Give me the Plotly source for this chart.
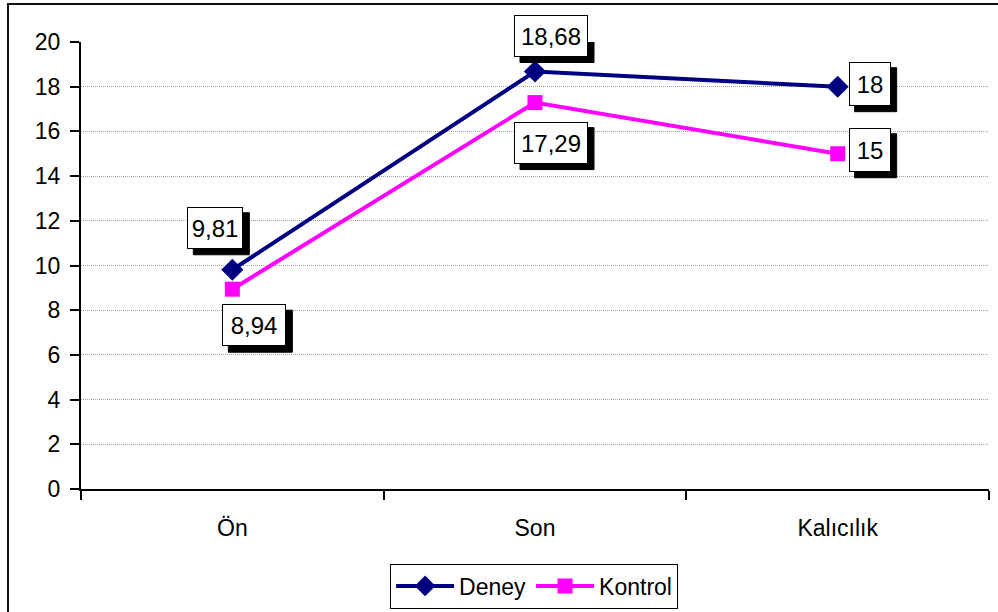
import plotly.graph_objects as go

categories = ["Ön", "Son", "Kalıcılık"]
deney = [9.81, 18.68, 18]
kontrol = [8.94, 17.29, 15]
deney_labels = ["9,81", "18,68", "18"]
kontrol_labels = ["8,94", "17,29", "15"]
y_ticks = list(range(0, 21, 2))

NAVY = "#000080"
MAGENTA = "#FF00FF"
FONT = "Liberation Sans, Arial, sans-serif"

fig = go.Figure()
fig.add_trace(go.Scatter(
    x=categories, y=deney, name="Deney", mode="lines+markers",
    line=dict(color=NAVY, width=4),
    marker=dict(symbol="diamond", size=17, color=NAVY),
))
fig.add_trace(go.Scatter(
    x=categories, y=kontrol, name="Kontrol", mode="lines+markers",
    line=dict(color=MAGENTA, width=4),
    marker=dict(symbol="square", size=15, color=MAGENTA),
))

# boxed value labels with a black drop shadow: (index, value, text, xshift, yshift, width, height)
labels = [
    (0, deney[0], deney_labels[0], -17, 42, 56, 42),
    (1, deney[1], deney_labels[1], 16, 36, 74, 42),
    (2, deney[2], deney_labels[2], 32, 3, 42, 44),
    (0, kontrol[0], kontrol_labels[0], 22, -36, 64, 42),
    (1, kontrol[1], kontrol_labels[1], 16, -40, 74, 42),
    (2, kontrol[2], kontrol_labels[2], 32, 4, 42, 44),
]
pad = 2
sh = 6
for i, y, txt, xs, ys, w, h in labels:
    # shadow box anchored at the data point, sized in pixels
    fig.add_shape(
        type="rect", xref="x", yref="y",
        xsizemode="pixel", ysizemode="pixel",
        xanchor=categories[i], yanchor=y,
        x0=xs + sh - w / 2, x1=xs + sh + w / 2,
        y0=ys - sh - h / 2, y1=ys - sh + h / 2,
        fillcolor="black", line=dict(color="black", width=1),
        layer="above",
    )
    fig.add_annotation(
        x=categories[i], y=y, text=txt, showarrow=False,
        xshift=xs, yshift=ys,
        width=w - 2 * pad - 2, height=h - 2 * pad - 2,
        borderpad=pad, borderwidth=1, bordercolor="black",
        bgcolor="white", font=dict(family=FONT, size=24, color="black"),
        align="center", valign="middle",
    )

# outer chart frame
fig.add_shape(type="rect", xref="paper", yref="paper",
              x0=(8 - 81) / 908, x1=(1005 - 81) / 908,
              y0=(489 - 620) / 447, y1=1 + (42 - 4) / 447,
              line=dict(color="#111", width=2), layer="below")

fig.update_layout(
    width=998, height=612,
    margin=dict(l=81, r=9, t=42, b=123, autoexpand=False),
    paper_bgcolor="white", plot_bgcolor="white",
    font=dict(family=FONT, size=23, color="black"),
    showlegend=True,
    legend=dict(
        orientation="h", x=0.499, xanchor="center",
        y=(489 - 586) / 447, yanchor="middle",
        bordercolor="black", borderwidth=1, bgcolor="white",
        font=dict(family=FONT, size=23, color="black"),
        itemwidth=58,
    ),
    xaxis=dict(
        type="category", tickson="boundaries",
        showline=True, linecolor="black", linewidth=2,
        ticks="outside", ticklen=9, tickwidth=2, tickcolor="black",
        showgrid=False, zeroline=False,
        ticklabelstandoff=17,
        tickfont=dict(family=FONT, size=23, color="black"),
        range=[-0.5, 2.5],
    ),
    yaxis=dict(
        range=[0, 20], tickvals=y_ticks,
        showline=True, linecolor="black", linewidth=2,
        ticks="outside", ticklen=9, tickwidth=2, tickcolor="black",
        showgrid=True, gridcolor="#a0a0a0", gridwidth=1, griddash="1px,1px",
        zeroline=False,
        ticklabelstandoff=5,
        tickfont=dict(family=FONT, size=23, color="black"),
    ),
)

fig.write_html("out.html")
